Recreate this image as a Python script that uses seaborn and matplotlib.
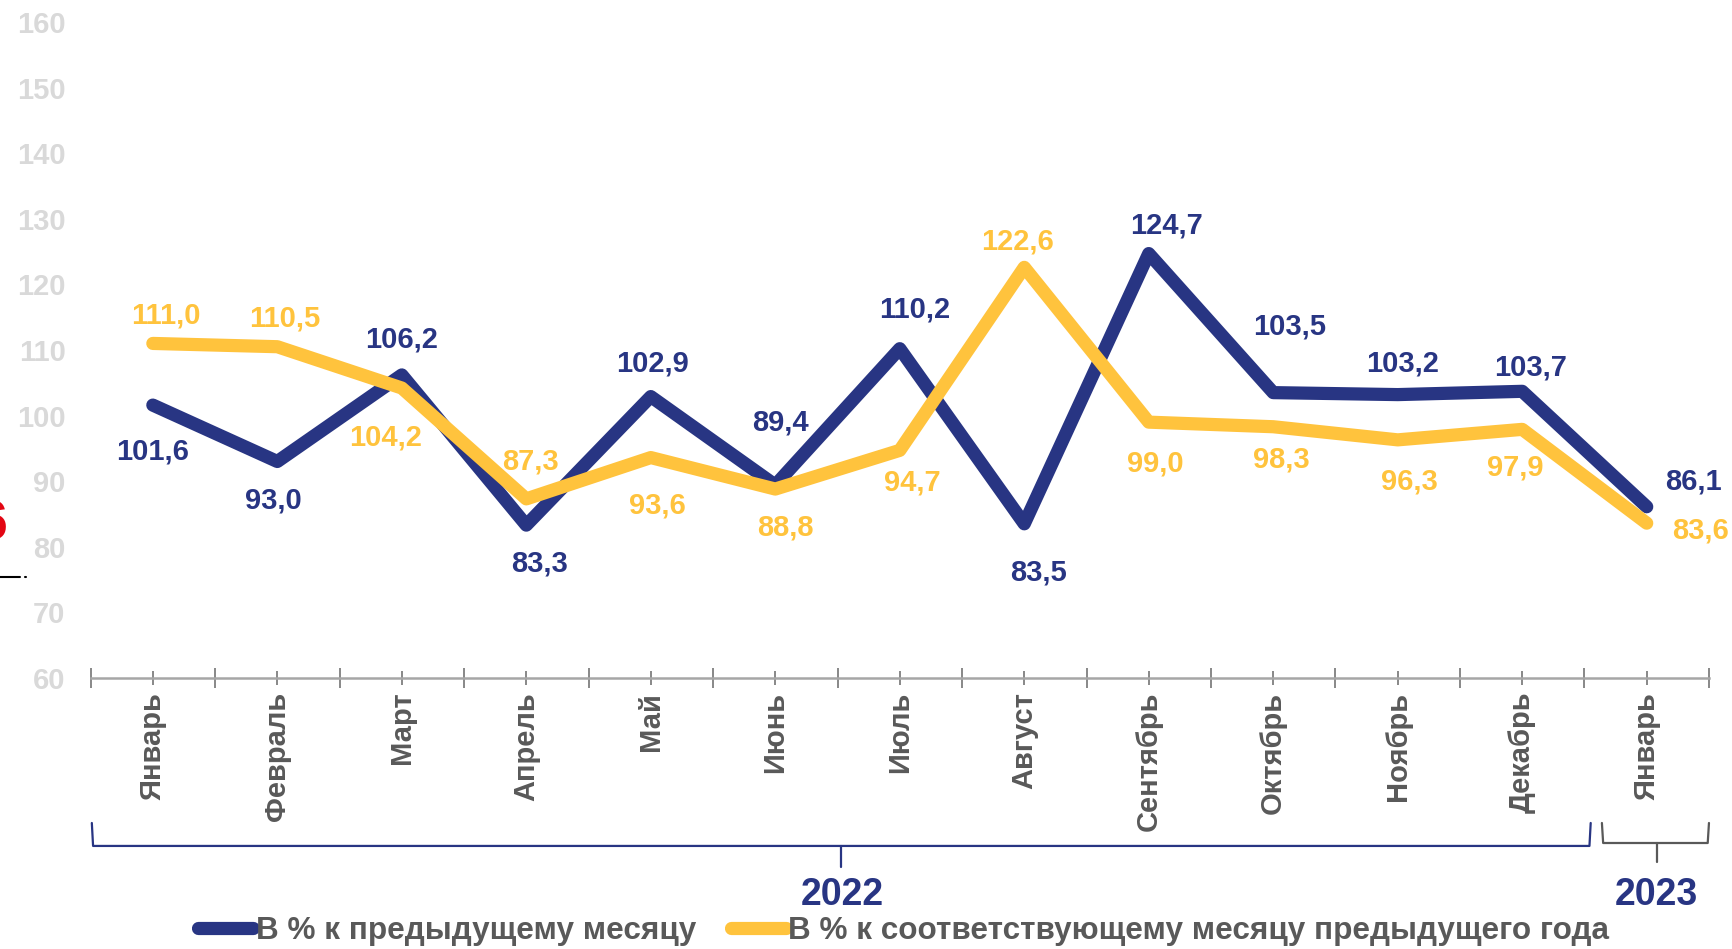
import numpy as np
import pandas as pd
import seaborn as sns
import matplotlib.pyplot as plt
from matplotlib.lines import Line2D
from matplotlib.transforms import blended_transform_factory

# данные
months = ["Январь", "Февраль", "Март", "Апрель", "Май", "Июнь", "Июль",
          "Август", "Сентябрь", "Октябрь", "Ноябрь", "Декабрь", "Январь"]
prev_month = [101.6, 93.0, 106.2, 83.3, 102.9, 89.4, 110.2, 83.5, 124.7,
              103.5, 103.2, 103.7, 86.1]
prev_year = [111.0, 110.5, 104.2, 87.3, 93.6, 88.8, 94.7, 122.6, 99.0,
             98.3, 96.3, 97.9, 83.6]
series_names = ["В % к предыдущему месяцу",
                "В % к соответствующему месяцу предыдущего года"]
years = ["2022", "2023"]

NAVY = "#283583"
YELLOW = "#FFC33D"
GRAY = "#595959"

# смещения подписей (px: вправо, вниз)
navy_off = [(0, 46), (-4, 39), (0, -35), (13, 38), (2, -33), (5, -63),
            (15, -39), (14, 49), (18, -28), (16, -66), (5, -31), (8, -24),
            (47, -25)]
yellow_off = [(13, -28), (7, -28), (-16, 49), (4, -37), (7, 48), (10, 38),
              (13, 32), (-7, -26), (7, 41), (8, 33), (12, 42), (-7, 38),
              (54, 7)]

sns.set_style("white")
plt.rcParams['font.family'] = ['Liberation Sans', 'DejaVu Sans']
plt.rcParams['font.weight'] = 'bold'

df = pd.DataFrame({"x": np.arange(len(months)), "m": prev_month, "y": prev_year})

fig = plt.figure(figsize=(17.32, 9.49), dpi=100)
ax = fig.add_axes([0.0523, 0.2856, 0.9344, 0.6912])

line_kw = dict(linewidth=9.5, solid_capstyle='round', solid_joinstyle='round')
sns.lineplot(data=df, x="x", y="m", ax=ax, color=NAVY, label=series_names[0], **line_kw)
sns.lineplot(data=df, x="x", y="y", ax=ax, color=YELLOW, label=series_names[1], **line_kw)

fmt = lambda v: f"{v:.1f}".replace(".", ",")
for i, v in enumerate(prev_month):
    dx, dy = navy_off[i]
    ax.annotate(fmt(v), (i, v), xytext=(dx * 0.72, -dy * 0.72), textcoords='offset points',
                ha='center', va='center', color=NAVY, fontsize=21, fontweight='bold')
for i, v in enumerate(prev_year):
    dx, dy = yellow_off[i]
    ax.annotate(fmt(v), (i, v), xytext=(dx * 0.72, -dy * 0.72), textcoords='offset points',
                ha='center', va='center', color=YELLOW, fontsize=21, fontweight='bold')

ax.set_xlim(-0.5, len(months) - 0.5)
ax.set_ylim(60, 160)
ax.set_yticks(range(60, 161, 10))
ax.tick_params(axis='y', left=False, length=0, pad=18, labelsize=21, labelcolor="#D9D9D9")
for t in ax.get_yticklabels():
    t.set_fontweight('bold')

ax.set_xticks(np.arange(-0.5, len(months), 1.0))
ax.set_xticklabels([])
ax.set_xticks(np.arange(len(months)), minor=True)
ax.set_xticklabels(months, minor=True, rotation=90, fontsize=21, fontweight='bold', color=GRAY)
ax.tick_params(axis='x', which='major', bottom=True, direction='inout', length=15, width=1.3, color="#7F7F7F")
ax.tick_params(axis='x', which='minor', bottom=True, direction='inout', length=10, width=1.3, color="#7F7F7F", pad=5)
ax.set_xlabel("")
ax.set_ylabel("")

for s in ["top", "right", "left"]:
    ax.spines[s].set_visible(False)
ax.spines["bottom"].set_color("#A6A6A6")
ax.spines["bottom"].set_linewidth(1.8)

ax.get_legend().remove()
handles = ax.get_lines()[:2]
fig.legend(handles, series_names, loc='center', bbox_to_anchor=(0.5217, 0.019), ncol=2,
           frameon=False, handlelength=1.75, handletextpad=0.08, columnspacing=1.1,
           labelcolor=GRAY, prop={'weight': 'bold', 'size': 22.7})

# скобки по годам
tr = blended_transform_factory(ax.transData, fig.transFigure)
b1 = Line2D([-0.49, -0.48, 11.54, 11.55], [0.1328, 0.1086, 0.1086, 0.1328],
            color=NAVY, lw=1.6, transform=tr, solid_joinstyle='round')
n1 = Line2D([5.53, 5.53], [0.1086, 0.0864], color=NAVY, lw=1.6, transform=tr)
b2 = Line2D([11.64, 11.65, 12.49, 12.5], [0.1328, 0.1117, 0.1117, 0.1328],
            color=GRAY, lw=1.6, transform=tr, solid_joinstyle='round')
n2 = Line2D([12.08, 12.08], [0.1117, 0.0917], color=GRAY, lw=1.6, transform=tr)
for ln in (b1, n1, b2, n2):
    ln.set_clip_on(False)
    fig.add_artist(ln)
fig.text(5.54, 0.057, years[0], transform=tr, ha='center', va='center',
         fontsize=27, fontweight='bold', color=NAVY)
fig.text(12.08, 0.057, years[1], transform=tr, ha='center', va='center',
         fontsize=27, fontweight='bold', color=NAVY)

# обрезанные элементы у левого края
fig.text(8 / 1732, 1 - 526 / 949, "6", ha='right', va='center', fontsize=40,
         fontweight='bold', color="#E30613")
fig.add_artist(Line2D([0, 20 / 1732], [1 - 577 / 949] * 2, color='black', lw=1.5))
fig.add_artist(Line2D([25 / 1732, 26 / 1732], [1 - 577 / 949] * 2, color='black', lw=1.5))

fig.savefig("out.png", dpi=100)
